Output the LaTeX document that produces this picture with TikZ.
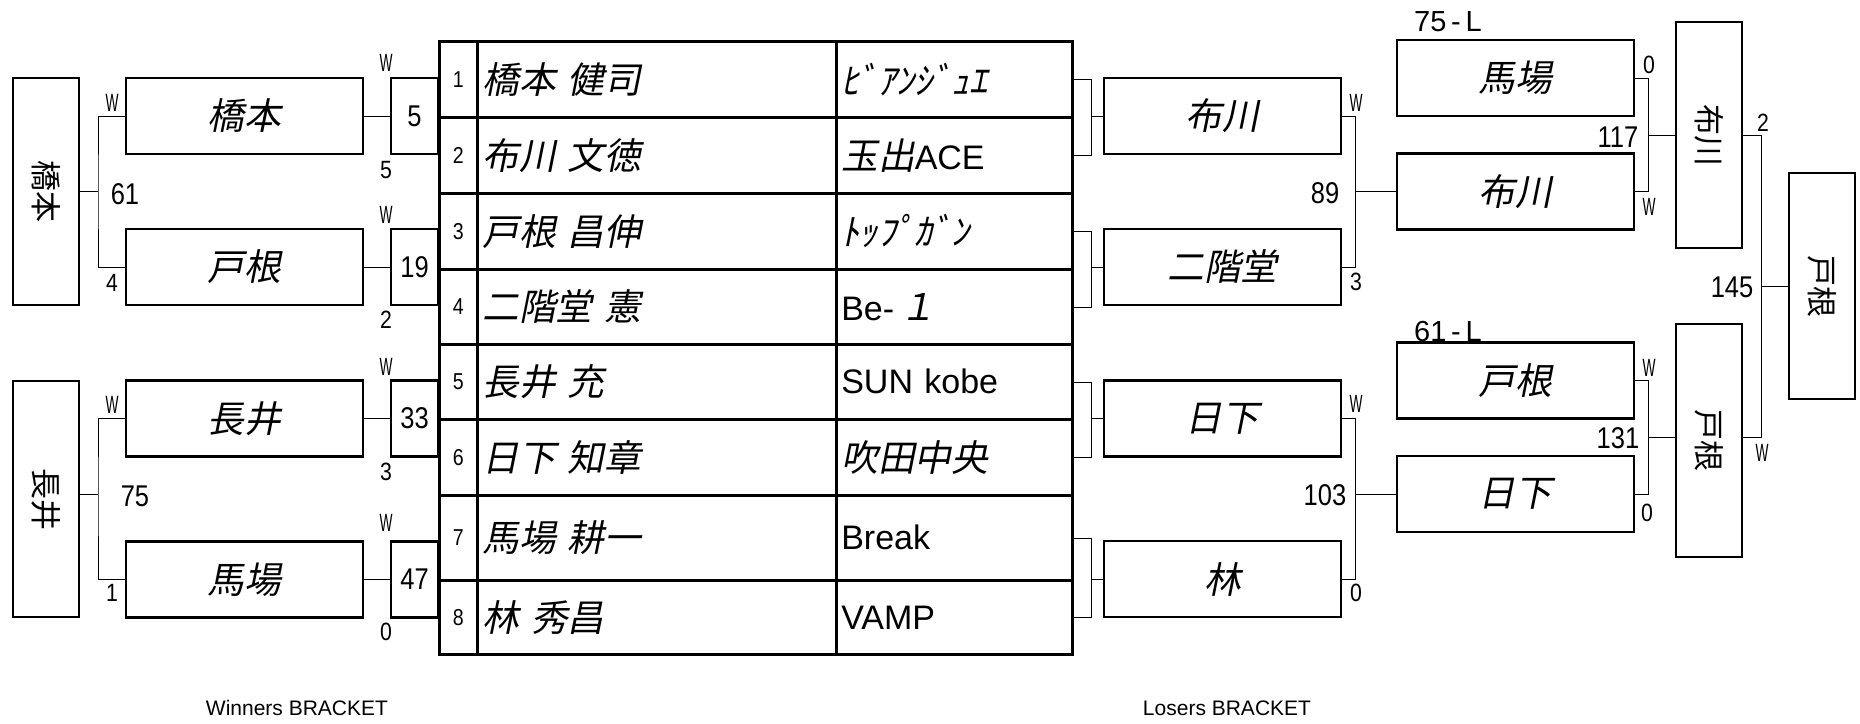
\documentclass[tikz,border=0pt]{standalone}
\usepackage{fontspec}
\setmainfont{Liberation Sans}
\newfontfamily\jpfont{Noto Sans CJK JP}[FakeSlant=0.2,Scale=1.08]
\newfontfamily\jpupfont{Noto Sans CJK JP}
\newfontfamily\narrowfont{Liberation Sans}[FakeStretch=0.85]
\newfontfamily\wfont{Liberation Sans}[FakeStretch=0.55]
\usepackage{tikz}
\pgfdeclarelayer{bg}
\pgfsetlayers{bg,main}

\tikzset{
  box/.style={draw, line width=2.6pt, inner sep=0pt},
  namebox/.style={box, minimum width=237pt, minimum height=76pt,
    font=\jpfont\fontsize{34pt}{38pt}\selectfont},
  tallbox/.style={box, minimum width=66pt,
    font=\jpupfont\fontsize{31pt}{34pt}\selectfont},
  scorebox/.style={box, minimum width=47pt, minimum height=76pt,
    font=\narrowfont\fontsize{30pt}{32pt}\selectfont},
  cell/.style={box, anchor=north west},
  wmark/.style={inner sep=0pt, font=\wfont\fontsize{25pt}{27pt}\selectfont},
  bignum/.style={inner sep=0pt, font=\narrowfont\fontsize{30pt}{32pt}\selectfont},
  smallnum/.style={inner sep=0pt, font=\narrowfont\fontsize{25pt}{27pt}\selectfont},
  title/.style={inner sep=0pt, font=\fontsize{21pt}{23pt}\selectfont},
}

\begin{document}
\begin{tikzpicture}[x=1pt, y=-1pt, line width=2.6pt]
        \useasboundingbox (0,0) rectangle (1860,723);
        % winners side
        \node (wf1) [tallbox, minimum height=227pt] at (46,191.5) {\rotatebox{-90}{橋本}};
        \node (wf2) [tallbox, minimum height=236pt] at (46,499) {\rotatebox{-90}{長井}};
        \node (w1) [namebox] at (244.5,116) {橋本};
        \node (w2) [namebox] at (244.5,267) {戸根};
        \node (w3) [namebox] at (244.5,418.5) {長井};
        \node (w4) [namebox] at (244.5,579.5) {馬場};
        \node (s1) [scorebox] at (414.5,116) {5};
        \node (s2) [scorebox] at (414.5,267) {19};
        \node (s3) [scorebox] at (414.5,418.5) {33};
        \node (s4) [scorebox] at (414.5,579.5) {47};
        \coordinate (cw1) at (98,191.5);
        \coordinate (cw2) at (98,494);
        % table of players
        \foreach \i/\ry/\rh/\pname/\tname in {
                1/40/76/{橋本 健司}/{\jpfont ﾋﾞｱﾝｼﾞｭｴ},
                2/116/76/{布川 文徳}/{{\jpfont 玉出}ACE},
                3/192/76/{戸根 昌伸}/{\jpfont ﾄｯﾌﾟｶﾞﾝ},
                4/268/75/{二階堂 憲}/{Be-\,{\jpfont １}},
                5/343/75/{長井 充}/{SUN kobe},
                6/418/76/{日下 知章}/{\jpfont 吹田中央},
                7/494/85/{馬場 耕一}/{Break},
                8/579/74/{林 秀昌}/{VAMP}} {
                \node (n\i) [cell, minimum width=38pt, minimum height=\rh pt,
                        font=\narrowfont\fontsize{23pt}{25pt}\selectfont] at (438,\ry) {\i};
                \node (p\i) [cell, inner xsep=5pt, text width=349pt, align=left, minimum height=\rh pt,
                        font=\jpfont\fontsize{34pt}{38pt}\selectfont] at (476,\ry) {\pname};
                \node (t\i) [cell, inner xsep=5pt, text width=226pt, align=left, minimum height=\rh pt,
                        font=\fontsize{34pt}{38pt}\selectfont] at (835,\ry) {\tname};
        }
        % losers side
        \coordinate (b1) at (1091,116);
        \coordinate (b2) at (1091,267);
        \coordinate (b3) at (1091,418.5);
        \coordinate (b4) at (1091,579);
        \node (l1) [namebox] at (1222.5,116) {布川};
        \node (l2) [namebox] at (1222.5,267) {二階堂};
        \node (l3) [namebox] at (1222.5,418.5) {日下};
        \node (l4) [namebox] at (1222.5,579) {林};
        \node (l5) [namebox] at (1515.5,78) {馬場};
        \node (l6) [namebox] at (1515.5,191.5) {布川};
        \node (l7) [namebox] at (1515.5,380.5) {戸根};
        \node (l8) [namebox] at (1515.5,494) {日下};
        \node (ls1) [tallbox, minimum height=226pt] at (1709,135) {\rotatebox{-90}{布川}};
        \node (ls2) [tallbox, minimum height=233pt] at (1709,440.5) {\rotatebox{-90}{戸根}};
        \node (lf) [tallbox, minimum height=226pt] at (1822,286) {\rotatebox{-90}{戸根}};
        \coordinate (cl1) at (1355,191.5);
        \coordinate (cl2) at (1355,494);
        \coordinate (cl3) at (1648,135);
        \coordinate (cl4) at (1648,437);
        \coordinate (cf) at (1761,286);
        % scores and marks
        \node (m1) [wmark] at (112,103) {W};
        \node (m2) [bignum] at (125,194) {61};
        \node (m3) [smallnum] at (112,283) {4};
        \node (m4) [wmark] at (386,63) {W};
        \node (m5) [smallnum] at (386,170) {5};
        \node (m6) [wmark] at (386,215) {W};
        \node (m7) [smallnum] at (386,320) {2};
        \node (m8) [wmark] at (112,405) {W};
        \node (m9) [bignum] at (135,496) {75};
        \node (m10) [smallnum] at (112,593) {1};
        \node (m11) [wmark] at (386,367) {W};
        \node (m12) [smallnum] at (386,472) {3};
        \node (m13) [wmark] at (386,523) {W};
        \node (m14) [smallnum] at (386,632) {0};
        \node (m15) [wmark] at (1356,103) {W};
        \node (m16) [bignum] at (1325,193) {89};
        \node (m17) [smallnum] at (1356,282) {3};
        \node (m18) [wmark] at (1356,404) {W};
        \node (m19) [bignum] at (1325,495) {103};
        \node (m20) [smallnum] at (1356,593) {0};
        \node (m21) [bignum, font=\fontsize{29pt}{31pt}\selectfont] at (1448,22) {75\,-\,L};
        \node (m22) [bignum, font=\fontsize{29pt}{31pt}\selectfont] at (1448,332) {61\,-\,L};
        \node (m23) [smallnum] at (1649,65) {0};
        \node (m24) [bignum] at (1618,137) {117};
        \node (m25) [wmark] at (1649,207) {W};
        \node (m26) [wmark] at (1649,368) {W};
        \node (m27) [bignum] at (1618,438) {131};
        \node (m28) [smallnum] at (1647,513) {0};
        \node (m29) [smallnum] at (1763,123) {2};
        \node (m30) [bignum] at (1732,287) {145};
        \node (m31) [wmark] at (1762,453) {W};
        \node (wtitle) [title] at (297,708) {Winners BRACKET};
        \node (ltitle) [title] at (1227,708) {Losers BRACKET};
        \begin{pgfonlayer}{bg}
                \draw (w1.west) -| (cw1) |- (w2.west);
                \draw (cw1) -- (cw1 -| wf1.east);
                \draw (w3.west) -| (cw2) |- (w4.west);
                \draw (cw2) -- (cw2 -| wf2.east);
                \draw (w1.east) -- (s1.west);
                \draw (w2.east) -- (s2.west);
                \draw (w3.east) -- (s3.west);
                \draw (w4.east) -- (s4.west);
                \draw (t1.east) -| (b1) |- (t2.east);
                \draw (t3.east) -| (b2) |- (t4.east);
                \draw (t5.east) -| (b3) |- (t6.east);
                \draw (t7.east) -| (b4) |- (t8.east);
                \draw (b1) -- (l1.west);
                \draw (b2) -- (l2.west);
                \draw (b3) -- (l3.west);
                \draw (b4) -- (l4.west);
                \draw (l1.east) -| (cl1) |- (l2.east);
                \draw (cl1) -- (l6.west);
                \draw (l3.east) -| (cl2) |- (l4.east);
                \draw (cl2) -- (l8.west);
                \draw (l5.east) -| (cl3) |- (l6.east);
                \draw (cl3) -- (ls1.west);
                \draw (l7.east) -| (cl4) |- (l8.east);
                \draw (cl4) -- (cl4 -| ls2.west);
                \draw (ls1.east) -| (cf) |- (cl4 -| ls2.east);
                \draw (cf) -- (lf.west);
        \end{pgfonlayer}
\end{tikzpicture}
\end{document}
